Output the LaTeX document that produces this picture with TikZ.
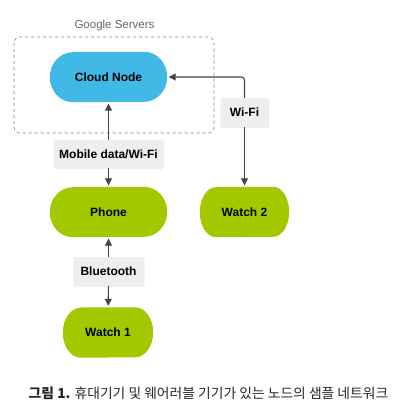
\documentclass[tikz,border=0pt]{standalone}
\usepackage{fontspec}
\setmainfont{Liberation Sans}
\newfontfamily\krfont{Noto Sans CJK KR}
\usetikzlibrary{arrows.meta,shadows,backgrounds}
\definecolor{cloudblue}{HTML}{41B9E7}
\definecolor{devgreen}{HTML}{A4C800}
\definecolor{tagfill}{HTML}{EEEEEE}
\definecolor{linkgray}{HTML}{444444}
% fill behind a device node, ends as half ellipses
\newcommand{\devfill}[3]{%
  \fill [#2] ([xshift=#3]#1.north west) -- ([xshift=-#3]#1.north east)
    arc [start angle=90, end angle=0, x radius=#3, y radius=25pt]
    arc [start angle=0, end angle=-90, x radius=#3, y radius=25pt] -- ([xshift=#3]#1.south west)
    arc [start angle=-90, end angle=-180, x radius=#3, y radius=25pt]
    arc [start angle=180, end angle=90, x radius=#3, y radius=25pt] -- cycle;}

\begin{document}
\begin{tikzpicture}
[every node/.style={inner sep=0pt, font=\fontsize{12}{14}\selectfont\bfseries},
 device/.style={rectangle, minimum height=50pt},
 tag/.style={rectangle, rounded corners=1.5pt, fill=tagfill,
   drop shadow={opacity=0.2, shadow xshift=0.4pt, shadow yshift=-0.6pt}},
 link/.style={line width=1.1pt, color=linkgray, -{Triangle[width=7pt,length=7pt]}, shorten >=1.5pt}]
\useasboundingbox (0pt, 0pt) rectangle (404pt, -410pt);
\draw [dashed, color=gray, line width=0.6pt, rounded corners=6pt] (14pt, -37pt) rectangle (214pt, -133pt);
\node (servers) [font=\fontsize{11.5}{13}\selectfont, text=black!60] at (114.5pt, -26pt) {Google Servers};
\node (cloud) [device, minimum width=117pt] at (108.5pt, -77pt) {Cloud Node};
\node (phone) [device, minimum width=117pt] at (108.5pt, -212pt) {Phone};
\node (watchtwo) [device, minimum width=89pt] at (244.5pt, -212pt) {Watch 2};
\node (watchone) [device, minimum width=90pt] at (108pt, -332.5pt) {Watch 1};
\begin{scope}[on background layer]
\devfill{cloud}{cloudblue}{23pt}
\devfill{phone}{devgreen}{23pt}
\devfill{watchtwo}{devgreen}{16pt}
\devfill{watchone}{devgreen}{18pt}
\end{scope}
\node (mobile) [tag, minimum width=110pt, minimum height=28pt] at (108.5pt, -154pt) {Mobile data/Wi-Fi};
\node (bluetooth) [tag, minimum width=71pt, minimum height=29pt] at (108.5pt, -271.5pt) {Bluetooth};
\node (wifi) [tag, minimum width=48pt, minimum height=29pt] at (244.5pt, -112.5pt) {Wi-Fi};
\draw [link] (mobile) -- (cloud);
\draw [link] (mobile) -- (phone);
\draw [link] (bluetooth) -- (phone);
\draw [link] (bluetooth) -- (watchone);
\draw [link] (wifi) -- (watchtwo);
\draw [link, rounded corners=3pt] (wifi.north) |- (cloud.east);
\node (caption) [font=\krfont\fontsize{13.8}{16}\selectfont, text=black!85] at (208.5pt, -393pt) {\textbf{그림 1.} 휴대기기 및 웨어러블 기기가 있는 노드의 샘플 네트워크};
\end{tikzpicture}
\end{document}
